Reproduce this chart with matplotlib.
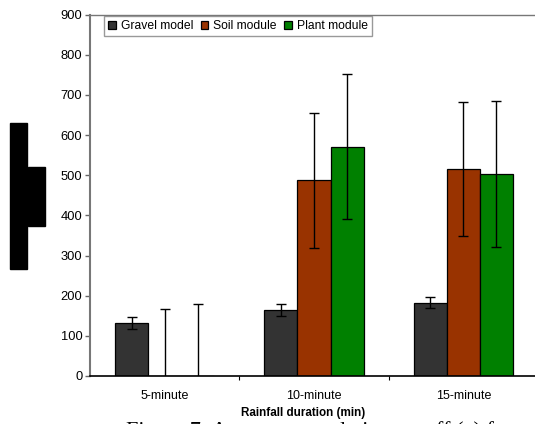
import numpy as np
import matplotlib.pyplot as plt
from matplotlib.patches import Rectangle

plt.rcParams['font.family'] = ['Liberation Sans', 'DejaVu Sans']

durations = ["5-minute", "10-minute", "15-minute"]
series_names = ["Gravel model", "Soil module", "Plant module"]
gravel = [132, 165, 183]
soil = [0, 488, 515]
plant = [0, 571, 503]
gravel_err = [16, 15, 14]
soil_err = [168, 168, 167]
plant_err = [180, 181, 181]
colors = ["#333333", "#993300", "#008000"]

fig = plt.figure(figsize=(5.35, 4.24), dpi=100)
W, H = 535, 424
ax = fig.add_axes([90 / W, 1 - 376 / H, 448 / W, 361.3 / H])

x = np.arange(len(durations))
width = 0.222
values = [gravel, soil, plant]
errors = [gravel_err, soil_err, plant_err]
for i in range(3):
    ax.bar(x + (i - 1) * width, values[i], width, color=colors[i],
           edgecolor="black", linewidth=0.9, label=series_names[i],
           yerr=errors[i], error_kw=dict(ecolor="black", elinewidth=1.0,
                                         capsize=3.3, capthick=1.0),
           zorder=2)

ax.set_xlim(-0.5, 2.5)
ax.set_ylim(0, 900)
ax.set_yticks(range(0, 901, 100))
ax.set_xticks(x)
ax.set_xticklabels(durations, fontsize=9)
ax.set_xticks([0.5, 1.5], minor=True)
ax.tick_params(axis="x", which="major", length=0, pad=10)
ax.tick_params(axis="x", which="minor", length=3, width=0.8, direction="out")
ax.tick_params(axis="y", length=3.5, width=1.0, color="#666666",
               labelsize=9.3, pad=2)

for side in ["left", "top", "right"]:
    ax.spines[side].set_color("#777777")
ax.spines["left"].set_linewidth(1.5)
ax.spines["top"].set_linewidth(1.0)
ax.spines["bottom"].set_linewidth(1.2)
ax.spines["bottom"].set_color("black")

leg = ax.legend(ncol=3, loc="upper left", bbox_to_anchor=(104 / W, 1 - 16 / H),
                bbox_transform=fig.transFigure, fontsize=8.7, frameon=True,
                fancybox=False, edgecolor="#808080", borderpad=0.35,
                handlelength=0.65, handleheight=0.65, handletextpad=0.4,
                columnspacing=0.6, borderaxespad=0)
leg.get_frame().set_linewidth(1.0)

fig.text(303 / W, 1 - 416 / H, "Rainfall duration (min)", fontsize=8.4,
         fontweight="bold", ha="center", va="baseline")

# caption line running off the bottom edge
fig.text(126 / W, 1 - 421 / H, "Figure 7: Average cumulative runoff (a) f",
         fontsize=16, family=["Liberation Serif", "DejaVu Serif"],
         ha="left", va="top")

# blocks covering the vertical axis title
fig.patches.append(Rectangle((10 / W, 1 - 269 / H), 17 / W, 146 / H,
                             transform=fig.transFigure, color="black"))
fig.patches.append(Rectangle((28 / W, 1 - 226 / H), 17 / W, 59 / H,
                             transform=fig.transFigure, color="black"))

fig.savefig("out.png", dpi=100)
